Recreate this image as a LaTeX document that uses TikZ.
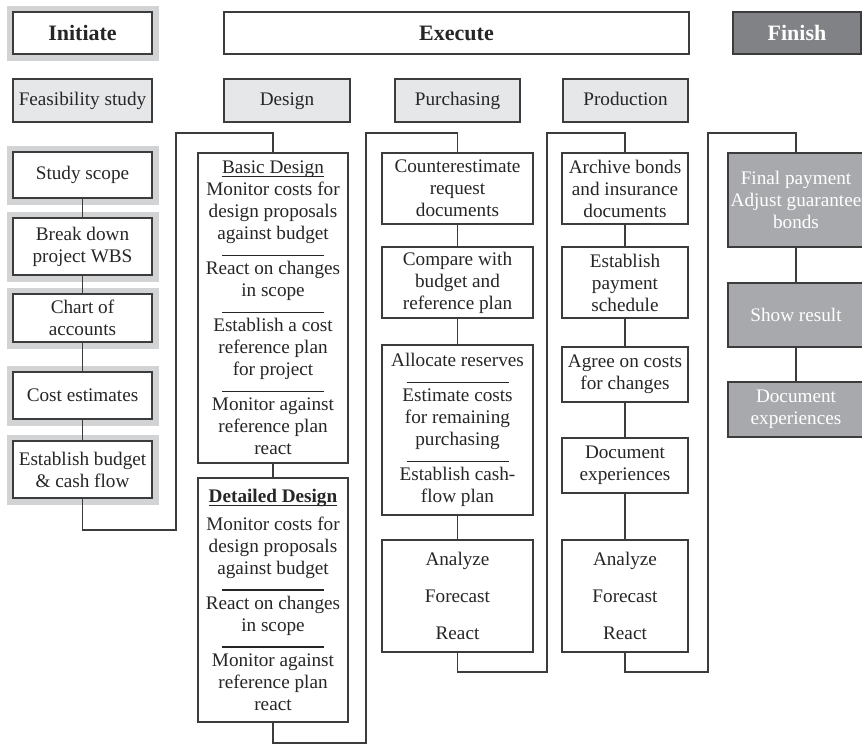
\documentclass[tikz,border=0pt]{standalone}
\usepackage{fontspec}
\setmainfont{Liberation Serif}
\usepackage{tikz}
\usetikzlibrary{positioning}
\definecolor{framegray}{HTML}{D1D3D4}
\definecolor{stagebg}{HTML}{E6E7E8}
\definecolor{finishdark}{HTML}{808285}
\definecolor{finishbg}{HTML}{A7A9AC}
\definecolor{linegray}{HTML}{3C3C3C}
\newcommand{\sepline}{\\[-3pt]\rule{51pt}{0.55pt}\\[-1.5pt]}
\newcommand{\headline}[1]{\setbox0\hbox{#1}\rlap{\rule[-1.8pt]{\wd0}{0.6pt}}\box0}

\begin{document}
\begin{tikzpicture}[
  x=0.5pt, y=-0.5pt,
  box/.style={
    draw=linegray, line width=0.6pt, fill=white, align=center, inner sep=1pt,
    font=\fontsize{9.6}{11}\selectfont, text=black!85
  },
  phase/.style={box, minimum height=21pt, font=\fontsize{11}{13}\selectfont\bfseries},
  stage/.style={box, fill=stagebg, minimum height=21.5pt, text height=1.6ex, text depth=0.45ex},
  framed/.style={preaction={draw=framegray, line width=6.5pt}},
  task/.style={box},
  closing/.style={box, fill=finishbg, text=white, minimum width=68pt},
  link/.style={draw=linegray, line width=0.6pt}
]
\useasboundingbox (0,0) rectangle (862,745);

\node[phase, framed, minimum width=69.5pt] (initiate) at (82.5,33) {Initiate};
\node[phase, minimum width=232.5pt] (execute) at (456.5,33) {Execute};
\node[phase, fill=finishdark, text=white, minimum width=64pt] (finish) at (797,33) {Finish};

\node[stage, minimum width=69.5pt] (feasibility) at (82.5,100.5) {Feasibility study};
\node[stage, minimum width=63pt] (design) at (287,100.5) {Design};
\node[stage, minimum width=62.5pt] (purchasing) at (457.5,100.5) {Purchasing};
\node[stage, minimum width=62.5pt] (production) at (625.5,100.5) {Production};

\node[task, framed, minimum width=69.5pt, minimum height=23pt] (scope) at (82.5,175) {Study scope};
\node[task, framed, minimum width=69.5pt, minimum height=28.5pt] (wbs) at (82.5,246.5) {Break down\\project WBS};
\node[task, framed, minimum width=69.5pt, minimum height=24pt] (accounts) at (82.5,318) {Chart of\\accounts};
\node[task, framed, minimum width=69.5pt, minimum height=23.5pt] (estimates) at (82.5,395.5) {Cost estimates};
\node[task, framed, minimum width=69.5pt, minimum height=28.5pt] (budget) at (82.5,469.5) {Establish budget\\\& cash flow};

\node[task, minimum width=75pt, minimum height=155pt] (basic) at (273,308)
  {\headline{Basic Design}\\Monitor costs for\\design proposals\\against budget\sepline
   React on changes\\in scope\sepline
   Establish a cost\\reference plan\\for project\sepline
   Monitor against\\reference plan\\react};
\node[task, minimum width=75pt, minimum height=122pt] (detailed) at (273,600)
  {\headline{\bfseries Detailed Design}\\[3pt]Monitor costs for\\design proposals\\against budget\sepline
   React on changes\\in scope\sepline
   Monitor against\\reference plan\\react};

\node[task, minimum width=75.5pt, minimum height=35.5pt] (counter) at (457.5,188.5) {Counterestimate\\request\\documents};
\node[task, minimum width=75.5pt, minimum height=35.5pt] (compare) at (457.5,282.5) {Compare with\\budget and\\reference plan};
\node[task, minimum width=75.5pt, minimum height=85pt] (allocate) at (457.5,430)
  {Allocate reserves\sepline Estimate costs\\for remaining\\purchasing\sepline Establish cash-\\flow plan};
\node[task, minimum width=75.5pt, minimum height=56pt] (analyzeA) at (457.5,596) {Analyze\\[7.5pt]Forecast\\[7.5pt]React};

\node[task, minimum width=63pt, minimum height=35.5pt] (archive) at (625,188.5) {Archive bonds\\and insurance\\documents};
\node[task, minimum width=63pt, minimum height=35.5pt] (payment) at (625,282.5) {Establish\\payment\\schedule};
\node[task, minimum width=63pt, minimum height=27.5pt] (agree) at (625,374.5) {Agree on costs\\for changes};
\node[task, minimum width=63pt, minimum height=27.5pt] (docs) at (625,465.5) {Document\\experiences};
\node[task, minimum width=63pt, minimum height=56pt] (analyzeB) at (625,596) {Analyze\\[7.5pt]Forecast\\[7.5pt]React};

\node[closing, minimum height=47pt] (payout) at (796,200) {Final payment\\Adjust guarantee\\bonds};
\node[closing, minimum height=32pt] (result) at (796,315) {Show result};
\node[closing, minimum height=27.5pt] (lessons) at (796,409.5) {Document\\experiences};

\coordinate (j1) at (176,530);
\coordinate (j2) at (176,133);
\coordinate (j3) at (366,743);
\coordinate (j4) at (366,133);
\coordinate (j5) at (547,672);
\coordinate (j6) at (547,133);
\coordinate (j7) at (708,672);
\coordinate (j8) at (708,133);

\foreach \a/\b in {scope/wbs, wbs/accounts, accounts/estimates, estimates/budget,
                   basic/detailed, counter/compare, compare/allocate, allocate/analyzeA,
                   archive/payment, payment/agree, agree/docs, docs/analyzeB,
                   payout/result, result/lessons}
  \draw[link] (\a) -- (\b);

\draw[link] (budget.south) |- (j1) -- (j2) -| (basic.north);
\draw[link] (detailed.south) |- (j3) -- (j4) -| (counter.north);
\draw[link] (analyzeA.south) |- (j5) -- (j6) -| (archive.north);
\draw[link] (analyzeB.south) |- (j7) -- (j8) -| (payout.north);

\end{tikzpicture}
\end{document}
